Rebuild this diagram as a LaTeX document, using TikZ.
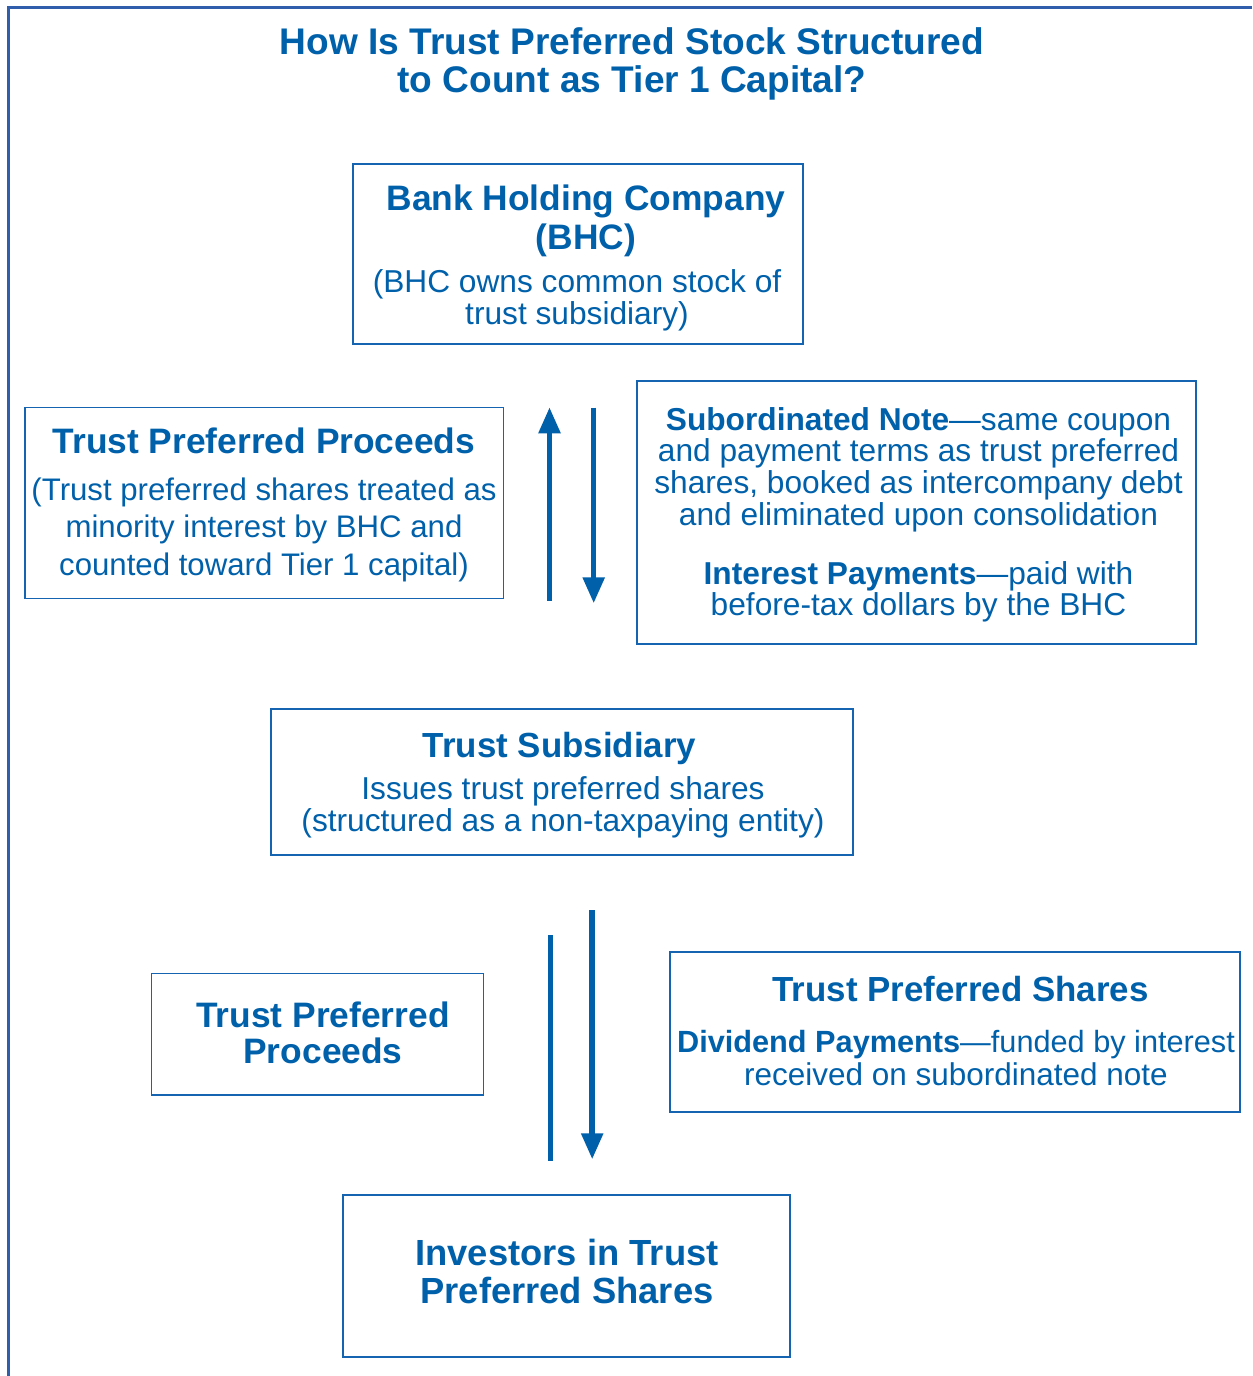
\documentclass[tikz,border=0pt]{standalone}
\usepackage{fontspec}
\setmainfont{Liberation Sans}
\usetikzlibrary{arrows.meta}
\definecolor{tblue}{RGB}{0,96,170}
\definecolor{lblue}{RGB}{20,100,178}
\definecolor{fblue}{RGB}{48,94,172}
\lineskiplimit=-1000pt
\newcommand\Ctr{\leftskip=0pt plus 1fil\rightskip=0pt plus 1fil\parfillskip=0pt\spaceskip=0pt\xspaceskip=0pt\lineskiplimit=-1000pt\relax}
\newcommand\Hd[2]{\fontsize{#1}{#2}\selectfont\bfseries\Ctr}
\newcommand\Bd[2]{\fontsize{#1}{#2}\selectfont\mdseries\Ctr}
\tikzset{
  box/.style={draw=lblue, line width=1.5bp, inner sep=0pt},
  mainbox/.style={box, line width=2.2bp},
  txt/.style={text=tblue, align=center, anchor=base, inner sep=0pt, text width=#1},
  txt/.default=720bp,
  flow/.style={draw=tblue, line width=5.5bp, -{Triangle[width=21bp,length=26bp]}},
  bar/.style={draw=tblue, line width=5.5bp},
  frame/.style={draw=fblue, line width=2.8bp}
}
\begin{document}
\begin{tikzpicture}[x=1bp,y=-1bp]
\useasboundingbox (0,0) rectangle (1252,1376);
% frame (runs off the right and bottom edges)
\coordinate (fr1) at (1252,7.5);
\coordinate (fr2) at (8.5,7.5);
\coordinate (fr3) at (8.5,1376);
\draw[frame] (fr1) -- (fr2) -- (fr3);

% title
\node[txt=1000bp] (title) at (632,54.5) {\Hd{37.2}{38}How Is Trust Preferred Stock Structured\\to Count as Tier 1 Capital?\par};

% boxes
\node[mainbox, minimum width=450bp, minimum height=179.5bp] (bhc) at (577.8,254) {};
\node[box, minimum width=478.3bp, minimum height=191bp] (tpp) at (264.2,502.8) {};
\node[box, minimum width=559bp, minimum height=263bp] (sub) at (916.5,512.5) {};
\node[mainbox, minimum width=582bp, minimum height=146bp] (ts) at (562,782) {};
\node[box, minimum width=331.6bp, minimum height=121.7bp] (tpq) at (317.5,1034.2) {};
\node[box, minimum width=570bp, minimum height=160bp] (tps) at (955,1032) {};
\node[mainbox, minimum width=446.7bp, minimum height=161.7bp] (inv) at (566.7,1275.8) {};

% texts
\node[txt] (bhct) at (577,210.5) {\Hd{35.5}{39}\hspace*{18bp}Bank Holding Company\\\hspace*{18bp}(BHC)\\[12.2bp]\Bd{31.8}{31.5}(BHC owns common stock of\\trust subsidiary)\par};
\node[txt] (tppt) at (264,453.3) {\Hd{35.5}{40}Trust Preferred Proceeds\\[9.5bp]\Bd{31.3}{37.7}(Trust preferred shares treated as\\minority interest by BHC and\\counted toward Tier 1 capital)\par};
\node[txt] (subt) at (918.5,430) {\Bd{31.8}{31.8}{\bfseries Subordinated Note}—same coupon\\and payment terms as trust preferred\\shares, booked as intercompany debt\\and eliminated upon consolidation\\[27.5bp]{\bfseries Interest Payments}—paid with\\before-tax dollars by the BHC\par};
\node[txt] (tst) at (563,757) {\Hd{35}{39}\hspace*{-7bp}Trust Subsidiary\\[10bp]\Bd{31.8}{32.6}Issues trust preferred shares\\(structured as a non-taxpaying entity)\par};
\node[txt] (tpqt) at (323,1027) {\Hd{35.5}{37}Trust Preferred\\Proceeds\par};
\node[txt] (tpst) at (956,1001) {\Hd{35}{39}\hspace*{9bp}Trust Preferred Shares\\[17.8bp]\Bd{30.8}{33.5}{\bfseries Dividend Payments}—funded by interest\\\Bd{31.6}{33.5}received on subordinated note\par};
\node[txt] (invt) at (567,1265) {\Hd{36.5}{38.3}Investors in Trust\\Preferred Shares\par};

% arrows between BHC and trust subsidiary
\coordinate (a1s) at (549.5,600.5);
\coordinate (a1e) at (549.5,407.3);
\coordinate (a2s) at (593.7,407.5);
\coordinate (a2e) at (593.7,603.3);
\draw[flow] (a1s) -- (a1e);
\draw[flow] (a2s) -- (a2e);

% arrows between trust subsidiary and investors
\coordinate (b1s) at (550.3,935);
\coordinate (b1e) at (550.3,1160.7);
\coordinate (b2s) at (592.2,910);
\coordinate (b2e) at (592.2,1159.3);
\draw[bar] (b1s) -- (b1e);
\draw[flow] (b2s) -- (b2e);
\end{tikzpicture}
\end{document}
